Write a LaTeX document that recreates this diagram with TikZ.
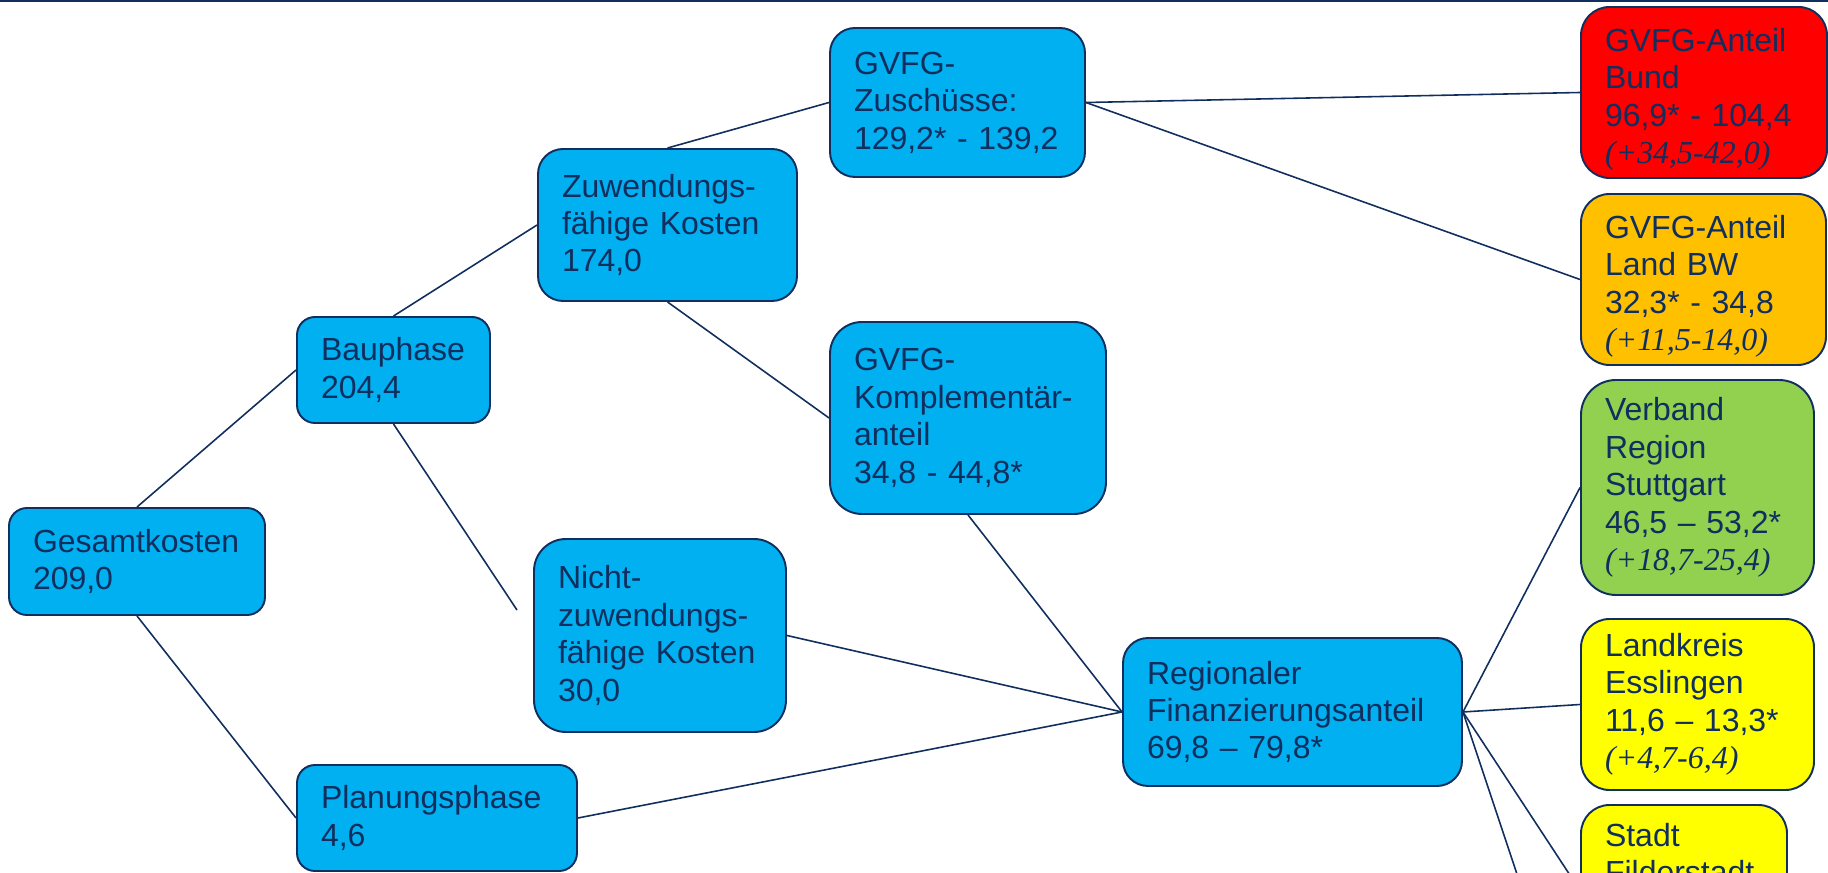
\documentclass[tikz,border=0pt]{standalone}
\usepackage{fontspec}
\setmainfont{Liberation Sans}
\newfontfamily\serifit{Liberation Serif}
\usepackage{tikz}

\definecolor{navy}{RGB}{16,46,94}
\definecolor{hellblau}{RGB}{0,176,240}
\definecolor{rot}{RGB}{255,0,0}
\definecolor{orange}{RGB}{255,192,0}
\definecolor{gruen}{RGB}{146,208,80}
\definecolor{gelb}{RGB}{255,255,0}

\newcommand{\zusatz}[1]{{\serifit\itshape #1}}

\begin{document}
\begin{tikzpicture}[
    box/.style={draw=navy, line width=1.1pt, rounded corners=0.5cm, align=left,
      inner xsep=0.48cm, inner ysep=0pt, text=navy,
      font=\fontsize{18.2pt}{21.3pt}\selectfont},
    link/.style={draw=navy, line width=0.9pt}
  ]

    \useasboundingbox (0, 0) rectangle (36.56, 17.46);
    \clip (0, 0) rectangle (36.56, 17.46);
    \draw [navy, line width=0.04cm] (0, 17.44) -- (36.56, 17.44);

    \node [box, fill=hellblau, text width=4.16cm, minimum height=2.14cm, rounded corners=0.36cm] (ges) at (2.74, 6.23) {Gesamtkosten\\209,0};
    \node [box, fill=hellblau, text width=2.90cm, minimum height=2.12cm, rounded corners=0.36cm] (bau) at (7.87, 10.06) {Bauphase\\204,4};
    \node [box, fill=hellblau, text width=4.64cm, minimum height=2.12cm, rounded corners=0.36cm] (plan) at (8.74, 1.10) {Planungsphase\\4,6};
    \node [box, fill=hellblau, text width=4.22cm, minimum height=3.04cm] (zuw) at (13.35, 12.96) {Zuwendungs-\\fähige Kosten\\174,0};
    \node [box, fill=hellblau, text width=4.08cm, minimum height=3.86cm, rounded corners=0.64cm] (nzuw) at (13.20, 4.75) {Nicht-\\zuwendungs-\\fähige Kosten\\30,0};
    \node [box, fill=hellblau, text width=4.14cm, minimum height=2.98cm] (gz) at (19.15, 15.41) {GVFG-\\Zuschüsse:\\129,2* - 139,2};
    \node [box, fill=hellblau, text width=4.56cm, minimum height=3.84cm, rounded corners=0.64cm] (gk) at (19.36, 9.10) {GVFG-\\Komplementär-\\anteil\\34,8 - 44,8*};
    \node [box, fill=hellblau, text width=5.82cm, minimum height=2.96cm] (reg) at (25.85, 3.22) {Regionaler\\Finanzierungsanteil\\69,8 – 79,8*};

    \node [box, fill=rot, text width=3.96cm, minimum height=3.42cm, rounded corners=0.57cm] (bund) at (34.08, 15.61) {\rule{0pt}{1.15em}GVFG-Anteil\\Bund\\96,9* - 104,4\\\zusatz{(+34,5-42,0)}};
    \node [box, fill=orange, text width=3.94cm, minimum height=3.42cm, rounded corners=0.57cm] (land) at (34.07, 11.87) {\rule{0pt}{1.15em}GVFG-Anteil\\Land BW\\32,3* - 34,8\\\zusatz{(+11,5-14,0)}};
    \node [box, fill=gruen, text width=3.70cm, minimum height=4.30cm, rounded corners=0.7cm] (vrs) at (33.95, 7.71) {Verband\\Region\\Stuttgart\\46,5 – 53,2*\\\zusatz{(+18,7-25,4)}};
    \node [box, fill=gelb, text width=3.70cm, minimum height=3.42cm, rounded corners=0.57cm] (lke) at (33.95, 3.37) {Landkreis\\Esslingen\\11,6 – 13,3*\\\zusatz{(+4,7-6,4)}};
    \node [box, fill=gelb, minimum width=4.12cm, minimum height=3.42cm, rounded corners=0.57cm] (fil) at (33.68, -0.35) {};
    \node [box, draw=none, text width=3.16cm, anchor=north west] (filtext) at ([yshift=-0.36cm]fil.north west) {Stadt\\Filderstadt};

    \coordinate (nzend) at (10.34, 5.26);
    \coordinate (weiter) at (31.62, -3.86);

    \draw [link] (ges.north) to (bau.west);
    \draw [link] (ges.south) to (plan.west);
    \draw [link] (bau.north) to (zuw.west);
    \draw [link] (bau.south) to (nzend);
    \draw [link] (zuw.north) to (gz.west);
    \draw [link] (zuw.south) to (gk.west);
    \draw [link] (gz.east) to (bund.west);
    \draw [link] (gz.east) to (land.west);
    \draw [link] (gk.south) to (reg.west);
    \draw [link] (nzuw.east) to (reg.west);
    \draw [link] (plan.east) to (reg.west);
    \draw [link] (reg.east) to (vrs.west);
    \draw [link] (reg.east) to (lke.west);
    \draw [link] (reg.east) to (fil.west);
    \draw [link] (reg.east) to (weiter);

  \end{tikzpicture}
\end{document}
